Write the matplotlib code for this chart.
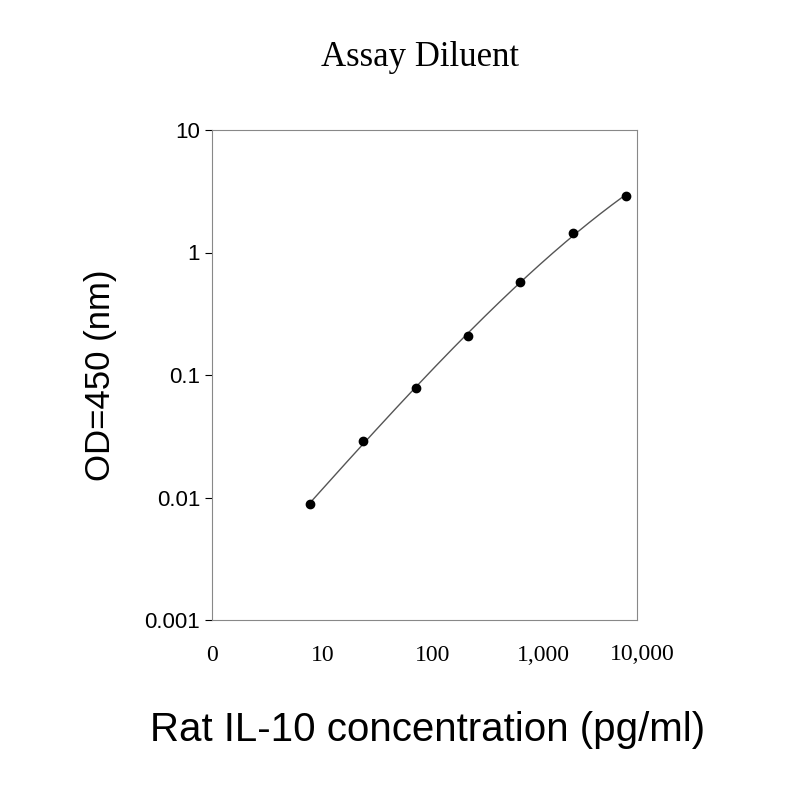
import matplotlib
matplotlib.use("Agg")
import matplotlib.pyplot as plt
import numpy as np

conc = [7.8, 23.4, 70, 208, 625, 1875, 5625]
od = [0.0089, 0.029, 0.078, 0.21, 0.57, 1.44, 2.9]
xticks = [1, 10, 100, 1000]
xticklabels = ["0", "10", "100", "1,000"]
yticks = [0.001, 0.01, 0.1, 1, 10]
yticklabels = ["0.001", "0.01", "0.1", "1", "10"]

fig = plt.figure(figsize=(8, 8), dpi=100)
ax = fig.add_axes([0.265, 0.225, 0.531, 0.6125])
ax.set_xscale("log"); ax.set_yscale("log")
ax.set_xlim(1, 10**3.85); ax.set_ylim(0.001, 10)

lx, ly = np.log10(conc), np.log10(od)
c = np.polyfit(lx, ly, 3)
xs = np.linspace(lx[0], lx[-1], 200)
ax.plot(10**xs, 10**np.polyval(c, xs), color="#555555", lw=1)
ax.plot(conc, od, "o", color="black", ms=6)

ax.set_xticks(xticks)
ax.set_xticklabels(xticklabels, fontfamily="Liberation Serif", fontsize=17)
ax.xaxis.set_tick_params(pad=18)
ax.text(10**3.9, 10**(-3.2), "10,000", ha="center", va="top",
        fontfamily="Liberation Serif", fontsize=17)
ax.set_yticks(yticks)
ax.set_yticklabels(yticklabels, fontfamily="Liberation Sans", fontsize=16)
ax.minorticks_off()
ax.tick_params(axis="x", length=0)
ax.tick_params(axis="y", length=5, direction="out")
for s in ax.spines.values():
    s.set_color("#888888")

ax.set_ylabel("OD=450 (nm)", fontfamily="Liberation Sans", fontsize=25, labelpad=20)
fig.text(0.535, 0.087, "Rat IL-10 concentration (pg/ml)", ha="center", va="center",
         fontfamily="Liberation Sans", fontsize=29)
fig.text(0.525, 0.928, "Assay Diluent", ha="center", va="center",
         fontfamily="Liberation Serif", fontsize=25)
fig.savefig("out.png")
